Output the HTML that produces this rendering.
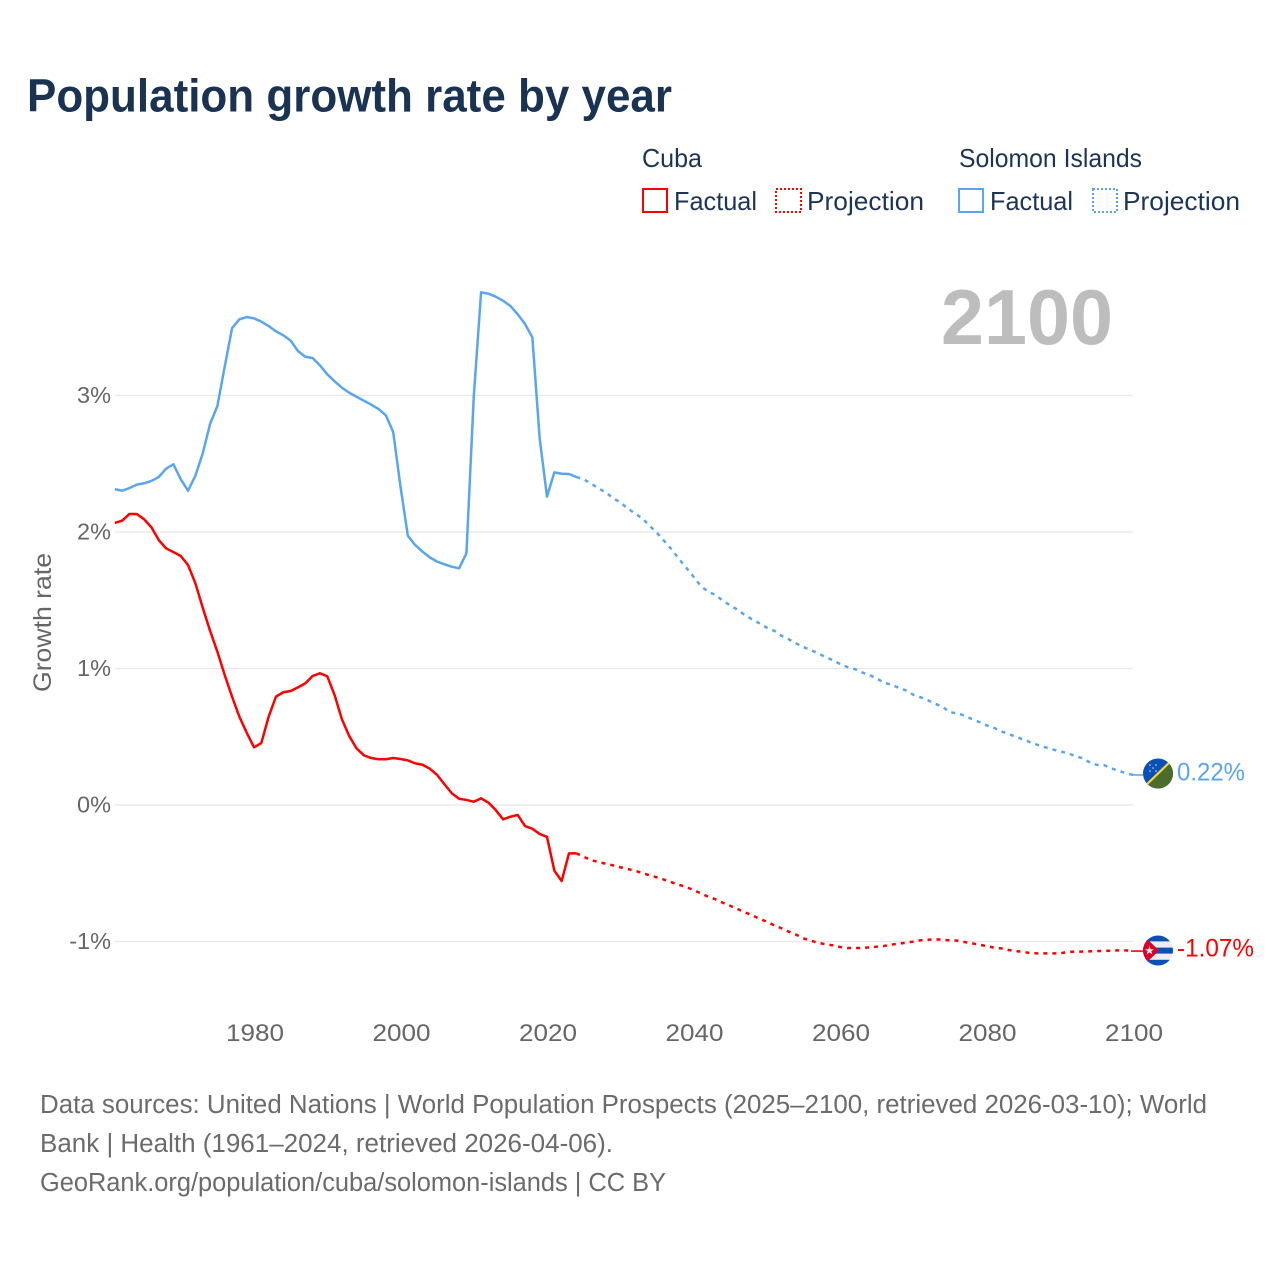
<!DOCTYPE html>
<html lang="en">
<head>
<meta charset="utf-8">
<title>Population growth rate by year</title>
<style>
html,body{margin:0;padding:0;background:#fff;width:1280px;height:1280px;overflow:hidden}
svg{display:block;font-family:"Liberation Sans",sans-serif}
</style>
</head>
<body>
<svg id="chart" xmlns="http://www.w3.org/2000/svg" width="1280" height="1280" viewBox="0 0 1280 1280">
  <rect x="0" y="0" width="1280" height="1280" fill="#ffffff"/>
  <text x="27" y="111.5" font-size="46" font-weight="700" fill="#1a3352" textLength="645" lengthAdjust="spacingAndGlyphs">Population growth rate by year</text>

  <g font-size="26" fill="#1c3557">
    <text x="642" y="167" textLength="60" lengthAdjust="spacingAndGlyphs">Cuba</text>
    <text x="959" y="167" textLength="183" lengthAdjust="spacingAndGlyphs">Solomon Islands</text>
    <rect x="643" y="189" width="24" height="23" fill="none" stroke="#ff0000" stroke-width="2"/>
    <text x="674" y="210" textLength="83" lengthAdjust="spacingAndGlyphs">Factual</text>
    <rect x="776" y="189" width="25" height="23" fill="none" stroke="#ff0000" stroke-width="2" stroke-dasharray="2 2"/>
    <text x="807" y="210" textLength="117" lengthAdjust="spacingAndGlyphs">Projection</text>
    <rect x="959" y="189" width="24" height="23" fill="none" stroke="#5aa5f0" stroke-width="2"/>
    <text x="990" y="210" textLength="83" lengthAdjust="spacingAndGlyphs">Factual</text>
    <rect x="1093" y="189" width="24" height="23" fill="none" stroke="#5aa5f0" stroke-width="2" stroke-dasharray="2 2"/>
    <text x="1123" y="210" textLength="117" lengthAdjust="spacingAndGlyphs">Projection</text>
  </g>

  <g id="grid"></g>
  <g id="yticks"></g>
  <g id="xticks"></g>
  <text transform="translate(51,622.5) rotate(-90)" text-anchor="middle" font-size="25" fill="#666666" textLength="139" lengthAdjust="spacingAndGlyphs">Growth rate</text>
  <text x="941" y="344" font-size="78" font-weight="700" fill="#bdbdbd" textLength="172" lengthAdjust="spacingAndGlyphs">2100</text>
  <g id="series"></g>

  <defs>
    <clipPath id="clip-solomon"><circle cx="1158" cy="773.5" r="15"/></clipPath>
    <clipPath id="clip-cuba"><circle cx="1158" cy="950.5" r="15"/></clipPath>
  </defs>
  <g clip-path="url(#clip-solomon)">
    <rect x="1143" y="758" width="30" height="31" fill="#0b51b5"/>
    <polygon points="1173,758 1173,789 1143,789" fill="#4a6d2c"/>
    <line x1="1173" y1="759" x2="1143" y2="788" stroke="#f5d442" stroke-width="2.2"/>
    <circle cx="1150" cy="765" r="0.8" fill="#cfe0f5"/>
    <circle cx="1156" cy="765" r="0.8" fill="#cfe0f5"/>
    <circle cx="1153" cy="768" r="0.8" fill="#cfe0f5"/>
    <circle cx="1150" cy="771" r="0.8" fill="#cfe0f5"/>
    <circle cx="1156" cy="771" r="0.8" fill="#cfe0f5"/>
  </g>
  <g clip-path="url(#clip-cuba)">
    <rect x="1143" y="935" width="30" height="31" fill="#eeeeee"/>
    <rect x="1143" y="935" width="30" height="6.4" fill="#0b51b5"/>
    <rect x="1143" y="947.6" width="30" height="6" fill="#0b51b5"/>
    <rect x="1143" y="959.8" width="30" height="6.4" fill="#0b51b5"/>
    <polygon points="1143,935 1159,950.5 1143,966" fill="#d80027"/>
    <polygon points="1149.5,946.2 1150.7,949.2 1153.9,949.2 1151.3,951.2 1152.3,954.4 1149.5,952.5 1146.7,954.4 1147.7,951.2 1145.1,949.2 1148.3,949.2" fill="#eeeeee"/>
  </g>
  <text x="1177" y="780.5" font-size="25" fill="#5aa5f0" textLength="68" lengthAdjust="spacingAndGlyphs">0.22%</text>
  <text x="1177" y="956.5" font-size="25" fill="#ff0000" textLength="77" lengthAdjust="spacingAndGlyphs">-1.07%</text>

  <g font-size="25.5" fill="#6b6b6b">
    <text x="40" y="1113" textLength="1167" lengthAdjust="spacingAndGlyphs">Data sources: United Nations | World Population Prospects (2025–2100, retrieved 2026-03-10); World</text>
    <text x="40" y="1152" textLength="573" lengthAdjust="spacingAndGlyphs">Bank | Health (1961–2024, retrieved 2026-04-06).</text>
    <text x="40" y="1191" textLength="626" lengthAdjust="spacingAndGlyphs">GeoRank.org/population/cuba/solomon-islands | CC BY</text>
  </g>
</svg>
<script>
const firstYear = 1961;
const projectionStartYear = 2024;
const yTickValues = [-1, 0, 1, 2, 3];
const xTickYears = [1980, 2000, 2020, 2040, 2060, 2080, 2100];

const solomonFactual = [2.313,2.303,2.322,2.347,2.357,2.374,2.403,2.464,2.496,2.386,2.303,2.413,2.576,2.791,2.923,3.211,3.492,3.558,3.575,3.565,3.541,3.509,3.470,3.441,3.402,3.326,3.284,3.275,3.221,3.155,3.104,3.057,3.02,2.991,2.962,2.933,2.901,2.855,2.733,2.332,1.973,1.905,1.856,1.814,1.783,1.763,1.746,1.734,1.844,2.99,3.756,3.746,3.724,3.694,3.656,3.595,3.524,3.426,2.686,2.259,2.437,2.427,2.425,2.403];
const solomonProjection = [2.403,2.386,2.356,2.32,2.291,2.249,2.217,2.173,2.137,2.1,2.046,1.995,1.934,1.873,1.804,1.739,1.672,1.604,1.563,1.538,1.497,1.463,1.431,1.392,1.36,1.331,1.299,1.277,1.24,1.214,1.184,1.157,1.136,1.111,1.084,1.062,1.033,1.011,0.996,0.972,0.952,0.928,0.896,0.881,0.859,0.84,0.808,0.789,0.767,0.742,0.72,0.679,0.672,0.654,0.63,0.608,0.584,0.566,0.54,0.52,0.5,0.481,0.459,0.44,0.423,0.408,0.393,0.381,0.361,0.344,0.315,0.295,0.293,0.269,0.251,0.234,0.22];
const cubaFactual = [2.066,2.083,2.132,2.132,2.093,2.034,1.941,1.88,1.853,1.824,1.758,1.624,1.445,1.277,1.123,0.952,0.794,0.647,0.53,0.423,0.454,0.647,0.794,0.826,0.835,0.862,0.891,0.945,0.965,0.943,0.806,0.628,0.505,0.415,0.364,0.344,0.335,0.335,0.344,0.337,0.327,0.305,0.295,0.266,0.22,0.152,0.086,0.046,0.037,0.024,0.049,0.017,-0.037,-0.105,-0.086,-0.073,-0.154,-0.174,-0.212,-0.234,-0.481,-0.557,-0.354,-0.354];
const cubaProjection = [-0.354,-0.379,-0.403,-0.418,-0.43,-0.442,-0.456,-0.469,-0.481,-0.498,-0.515,-0.53,-0.547,-0.566,-0.584,-0.601,-0.623,-0.647,-0.672,-0.691,-0.716,-0.738,-0.762,-0.786,-0.808,-0.833,-0.855,-0.881,-0.903,-0.928,-0.95,-0.977,-0.994,-1.009,-1.02,-1.028,-1.04,-1.048,-1.048,-1.048,-1.043,-1.038,-1.033,-1.023,-1.016,-1.009,-1.001,-0.991,-0.987,-0.984,-0.987,-0.991,-0.994,-1.004,-1.013,-1.023,-1.033,-1.045,-1.05,-1.062,-1.07,-1.077,-1.084,-1.087,-1.087,-1.087,-1.087,-1.077,-1.074,-1.074,-1.072,-1.07,-1.07,-1.067,-1.065,-1.065,-1.07];

const NS = 'http://www.w3.org/2000/svg';
function xScale(year) { return 254 + (year - 1980) * 7.325; }
function yScale(value) { return 805 - value * 136.5; }
const plotLeft = xScale(firstYear);
const plotRight = xScale(2100);
const flagLeft = 1143;

function make(tag, parent, attrs) {
  const el = document.createElementNS(NS, tag);
  Object.keys(attrs).forEach(function (k) { el.setAttribute(k, attrs[k]); });
  parent.appendChild(el);
  return el;
}
function pathFor(values, startYear) {
  return values.map(function (v, i) {
    return (i ? 'L' : 'M') + xScale(startYear + i).toFixed(2) + ' ' + yScale(v).toFixed(2);
  }).join(' ');
}

const gridGroup = document.getElementById('grid');
const yTickGroup = document.getElementById('yticks');
const xTickGroup = document.getElementById('xticks');
const seriesGroup = document.getElementById('series');

yTickValues.forEach(function (v) {
  const line = make('line', gridGroup, { x1: plotLeft, x2: plotRight, y1: yScale(v), y2: yScale(v), stroke: '#e8e8e8', 'stroke-width': 1.2 });
  
  
  const label = make('text', yTickGroup, { x: 111, y: yScale(v) + 7.5, 'text-anchor': 'end', 'font-size': 23.5, fill: '#666666' });
  
  
  label.textContent = v + '%';
});

xTickYears.forEach(function (yr) {
  const label = make('text', xTickGroup, { x: xScale(yr) + 1, y: 1041, 'text-anchor': 'middle', 'font-size': 24.5, fill: '#666666', textLength: 58, lengthAdjust: 'spacingAndGlyphs' });
  
  
  label.textContent = yr;
});

function drawSeries(factual, projection, color) {
  const solid = make('path', seriesGroup, { d: pathFor(factual, firstYear), fill: 'none', stroke: color, 'stroke-width': 2.5, 'stroke-linejoin': 'round' });
  
  
  const dashed = make('path', seriesGroup, { d: pathFor(projection, projectionStartYear), fill: 'none', stroke: color, 'stroke-width': 2.5, 'stroke-dasharray': '4 5' });
  
  
  const endY = yScale(projection[projection.length - 1]);
  const connector = make('line', seriesGroup, { x1: plotRight - 2, x2: flagLeft, y1: endY, y2: endY, stroke: color, 'stroke-width': 1.6 });
  
  
}
drawSeries(solomonFactual, solomonProjection, '#5aa5f0');
drawSeries(cubaFactual, cubaProjection, '#ff0000');
</script>
</body>
</html>
